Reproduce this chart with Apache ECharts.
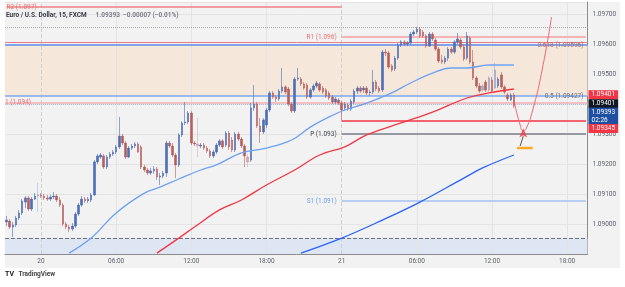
<!DOCTYPE html>
<html>
<head>
<meta charset="utf-8">
<script src="https://cdn.jsdelivr.net/npm/echarts@6/dist/echarts.min.js"></script>
<style>
  html, body { margin: 0; padding: 0; background: #fff; }
  #bg { position: absolute; left: 5px; top: 2px; width: 615px; height: 266px; background: #f2f2f2; }
  #chart { position: absolute; left: 0; top: 0; width: 625px; height: 287px; }
</style>
</head>
<body>
<div id="bg"></div>
<div id="chart"></div>
<script>
// EUR/USD 15 分钟 K 线（开、收、低、高）
const opens = [
  1.09007, 1.09010, 1.08990, 1.08997, 1.09020, 1.09037, 1.09073, 1.09087, 1.09050, 1.09083,
  1.09093, 1.09097, 1.09093, 1.09087, 1.09083, 1.09090, 1.09093, 1.09080, 1.09063, 1.09000,
  1.08990, 1.08983, 1.08993, 1.09033, 1.09063, 1.09083, 1.09077, 1.09080, 1.09097, 1.09207,
  1.09223, 1.09227, 1.09190, 1.09223, 1.09233, 1.09240, 1.09257, 1.09293, 1.09270, 1.09223,
  1.09253, 1.09260, 1.09267, 1.09257, 1.09190, 1.09180, 1.09170, 1.09177, 1.09183, 1.09157,
  1.09160, 1.09170, 1.09270, 1.09260, 1.09230, 1.09197, 1.09297, 1.09337, 1.09340, 1.09370,
  1.09270, 1.09267, 1.09260, 1.09263, 1.09253, 1.09243, 1.09227, 1.09240, 1.09263, 1.09277,
  1.09263, 1.09303, 1.09280, 1.09247, 1.09300, 1.09283, 1.09260, 1.09223, 1.09213, 1.09387,
  1.09400, 1.09327, 1.09307, 1.09330, 1.09380, 1.09437, 1.09423, 1.09417, 1.09443, 1.09457,
  1.09450, 1.09400, 1.09377, 1.09483, 1.09483, 1.09467, 1.09463, 1.09423, 1.09447, 1.09460,
  1.09467, 1.09453, 1.09447, 1.09437, 1.09423, 1.09407, 1.09413, 1.09403, 1.09387, 1.09397,
  1.09383, 1.09407, 1.09443, 1.09453, 1.09447, 1.09453, 1.09437, 1.09440, 1.09473, 1.09453,
  1.09447, 1.09573, 1.09570, 1.09527, 1.09517, 1.09553, 1.09597, 1.09607, 1.09600, 1.09603,
  1.09633, 1.09640, 1.09650, 1.09640, 1.09627, 1.09593, 1.09633, 1.09613, 1.09583, 1.09547,
  1.09540, 1.09553, 1.09583, 1.09573, 1.09607, 1.09613, 1.09590, 1.09553, 1.09620, 1.09540,
  1.09487, 1.09460, 1.09447, 1.09473, 1.09447, 1.09480, 1.09453, 1.09460, 1.09497, 1.09457,
  1.09430, 1.09413, 1.09430
]
const closes = [
  1.09013, 1.08990, 1.08997, 1.09020, 1.09037, 1.09077, 1.09087, 1.09050, 1.09083, 1.09093,
  1.09097, 1.09093, 1.09087, 1.09083, 1.09090, 1.09093, 1.09080, 1.09063, 1.09000, 1.08990,
  1.08983, 1.08993, 1.09033, 1.09063, 1.09083, 1.09077, 1.09083, 1.09097, 1.09207, 1.09227,
  1.09230, 1.09190, 1.09223, 1.09233, 1.09240, 1.09257, 1.09293, 1.09270, 1.09223, 1.09253,
  1.09260, 1.09267, 1.09240, 1.09190, 1.09180, 1.09170, 1.09177, 1.09183, 1.09157, 1.09160,
  1.09170, 1.09270, 1.09260, 1.09230, 1.09197, 1.09297, 1.09337, 1.09340, 1.09370, 1.09270,
  1.09267, 1.09260, 1.09263, 1.09253, 1.09243, 1.09227, 1.09240, 1.09263, 1.09277, 1.09257,
  1.09303, 1.09257, 1.09247, 1.09300, 1.09283, 1.09260, 1.09227, 1.09207, 1.09387, 1.09400,
  1.09327, 1.09307, 1.09347, 1.09380, 1.09437, 1.09423, 1.09417, 1.09443, 1.09457, 1.09440,
  1.09400, 1.09377, 1.09483, 1.09487, 1.09467, 1.09453, 1.09423, 1.09447, 1.09460, 1.09470,
  1.09447, 1.09440, 1.09427, 1.09420, 1.09407, 1.09417, 1.09403, 1.09380, 1.09400, 1.09383,
  1.09410, 1.09443, 1.09453, 1.09443, 1.09453, 1.09437, 1.09440, 1.09473, 1.09450, 1.09443,
  1.09573, 1.09570, 1.09523, 1.09513, 1.09553, 1.09597, 1.09607, 1.09600, 1.09603, 1.09633,
  1.09640, 1.09650, 1.09627, 1.09627, 1.09593, 1.09633, 1.09617, 1.09583, 1.09543, 1.09540,
  1.09553, 1.09583, 1.09573, 1.09607, 1.09617, 1.09590, 1.09550, 1.09627, 1.09540, 1.09487,
  1.09460, 1.09443, 1.09460, 1.09447, 1.09487, 1.09443, 1.09513, 1.09483, 1.09457, 1.09440,
  1.09417, 1.09430, 1.09393
]
const lows = [
  1.08993, 1.08983, 1.08957, 1.08990, 1.09013, 1.09030, 1.09053, 1.09043, 1.09043, 1.09080,
  1.09040, 1.09087, 1.09080, 1.09077, 1.09077, 1.09083, 1.09073, 1.09057, 1.08993, 1.08983,
  1.08973, 1.08977, 1.08987, 1.09027, 1.09057, 1.09070, 1.09070, 1.09073, 1.09093, 1.09200,
  1.09217, 1.09183, 1.09183, 1.09217, 1.09227, 1.09233, 1.09250, 1.09263, 1.09217, 1.09220,
  1.09247, 1.09253, 1.09237, 1.09183, 1.09173, 1.09163, 1.09163, 1.09167, 1.09147, 1.09130,
  1.09153, 1.09157, 1.09253, 1.09223, 1.09153, 1.09190, 1.09290, 1.09330, 1.09333, 1.09263,
  1.09260, 1.09223, 1.09253, 1.09247, 1.09237, 1.09220, 1.09220, 1.09233, 1.09257, 1.09250,
  1.09257, 1.09247, 1.09240, 1.09240, 1.09277, 1.09253, 1.09190, 1.09190, 1.09207, 1.09377,
  1.09320, 1.09270, 1.09300, 1.09320, 1.09373, 1.09417, 1.09407, 1.09410, 1.09437, 1.09433,
  1.09393, 1.09370, 1.09370, 1.09477, 1.09460, 1.09447, 1.09417, 1.09417, 1.09440, 1.09453,
  1.09440, 1.09433, 1.09420, 1.09413, 1.09400, 1.09400, 1.09397, 1.09347, 1.09377, 1.09377,
  1.09377, 1.09400, 1.09433, 1.09437, 1.09437, 1.09430, 1.09427, 1.09433, 1.09443, 1.09437,
  1.09440, 1.09560, 1.09517, 1.09507, 1.09510, 1.09547, 1.09590, 1.09593, 1.09593, 1.09597,
  1.09627, 1.09633, 1.09620, 1.09620, 1.09587, 1.09590, 1.09610, 1.09577, 1.09537, 1.09533,
  1.09533, 1.09543, 1.09567, 1.09567, 1.09600, 1.09583, 1.09543, 1.09547, 1.09533, 1.09480,
  1.09453, 1.09437, 1.09440, 1.09440, 1.09440, 1.09437, 1.09450, 1.09453, 1.09450, 1.09433,
  1.09410, 1.09410, 1.09387
]
const highs = [
  1.09027, 1.09017, 1.09007, 1.09027, 1.09047, 1.09083, 1.09093, 1.09093, 1.09090, 1.09103,
  1.09137, 1.09103, 1.09100, 1.09097, 1.09097, 1.09107, 1.09100, 1.09090, 1.09070, 1.09007,
  1.08997, 1.09003, 1.09040, 1.09070, 1.09093, 1.09090, 1.09090, 1.09103, 1.09213, 1.09233,
  1.09237, 1.09233, 1.09230, 1.09240, 1.09247, 1.09263, 1.09357, 1.09300, 1.09277, 1.09260,
  1.09267, 1.09273, 1.09273, 1.09263, 1.09197, 1.09187, 1.09187, 1.09193, 1.09190, 1.09170,
  1.09177, 1.09277, 1.09277, 1.09270, 1.09237, 1.09303, 1.09343, 1.09407, 1.09377, 1.09377,
  1.09277, 1.09353, 1.09270, 1.09270, 1.09260, 1.09250, 1.09247, 1.09270, 1.09283, 1.09283,
  1.09310, 1.09310, 1.09290, 1.09307, 1.09307, 1.09290, 1.09267, 1.09233, 1.09403, 1.09463,
  1.09407, 1.09353, 1.09353, 1.09387, 1.09443, 1.09443, 1.09430, 1.09450, 1.09520, 1.09463,
  1.09457, 1.09407, 1.09490, 1.09520, 1.09490, 1.09473, 1.09470, 1.09453, 1.09467, 1.09477,
  1.09473, 1.09460, 1.09453, 1.09443, 1.09430, 1.09423, 1.09420, 1.09410, 1.09407, 1.09403,
  1.09417, 1.09450, 1.09460, 1.09460, 1.09460, 1.09460, 1.09447, 1.09513, 1.09480, 1.09460,
  1.09580, 1.09583, 1.09577, 1.09533, 1.09560, 1.09603, 1.09613, 1.09613, 1.09610, 1.09640,
  1.09647, 1.09657, 1.09657, 1.09647, 1.09633, 1.09640, 1.09640, 1.09620, 1.09590, 1.09563,
  1.09560, 1.09590, 1.09590, 1.09613, 1.09637, 1.09620, 1.09597, 1.09640, 1.09627, 1.09580,
  1.09493, 1.09470, 1.09467, 1.09480, 1.09493, 1.09490, 1.09537, 1.09490, 1.09507, 1.09463,
  1.09437, 1.09437, 1.09437
]
// 颜色较淡的 K 线
const fadedBars = [10, 61, 77, 152, 154, 156]

// x 轴：每格 15 分钟，右侧留空
const slotCount = 186
const tickIndex = [11, 35, 59, 83, 107, 131, 155, 179]
const tickLabels = ['20', '06:00', '12:00', '18:00', '21', '06:00', '12:00', '18:00']
const dayIndex = [11, 107]

// 三条均线 [位置, 价格]
const maFast = [[20, 1.08903], [27, 1.08953], [35, 1.09037], [44, 1.09103], [49, 1.09123], [55, 1.09150],
  [62, 1.09180], [67, 1.09197], [75, 1.09237], [83, 1.09253], [91, 1.09280], [97, 1.09323],
  [103, 1.09357], [108, 1.09380], [115, 1.09403], [123, 1.09437], [129, 1.09470], [136, 1.09503],
  [142, 1.09520], [147, 1.09520], [154, 1.09530], [162, 1.09530]]
const maSlow = [[48, 1.08903], [55, 1.08953], [60, 1.08990], [68, 1.09047], [75, 1.09080], [83, 1.09130],
  [92, 1.09180], [100, 1.09230], [108, 1.09257], [115, 1.09297], [126, 1.09337], [136, 1.09373],
  [147, 1.09420], [154, 1.09437], [162, 1.09450]]
const maLong = [[94, 1.08903], [107, 1.08953], [120, 1.09013], [132, 1.09073], [146, 1.09153],
  [152, 1.09187], [162, 1.09230]]

// 手绘曲线与标记
const sketchCurve = [[162, 1.09413], [164, 1.09330], [165, 1.09310], [166, 1.09320], [168, 1.09380], [171, 1.09513], [174, 1.09690]]
const arrowPoint = [[165, 1.09318]]
const baseBar = [[163, 1.09253], [168, 1.09253]]
const stem = [[164, 1.09260], [165, 1.09293]]

// 枢轴点与斐波那契位
const r2 = 1.09723
const r1 = 1.09623
const pivot = 1.09300
const s1 = 1.09077
const fib618 = 1.09596
const fib618Top = 1.09605
const fib500 = 1.09427
const dotTop = 1.09655
const prevHigh = 1.09405
const prevDot = 1.09398
const stopLine = 1.09345
const bottomLine = 1.08954
const lastPrice = 1.09393
const tagHigh = 1.09401

const font = 'Roboto, sans-serif'
let chart = echarts.init(document.getElementById('chart'))

let categories = []
for (let i = 0; i < slotCount; i++) categories.push(String(i))

let candleData = opens.map(function (o, i) {
  let item = { value: [o, closes[i], lows[i], highs[i]] }
  if (fadedBars.indexOf(i) >= 0) item.itemStyle = { opacity: 0.45 }
  return item
})

function seg (from, to, v, color, width, labelText, labelColor, labelPos) {
  let style = { color: color, width: width, type: 'solid' }
  return [
    { coord: [from, v], lineStyle: style,
      label: labelText ? { show: true, position: labelPos || 'start', formatter: labelText, color: labelColor, fontSize: 6.5, fontFamily: font, distance: labelPos ? 0 : 5 } : { show: false } },
    { coord: [to, v], lineStyle: style }
  ]
}

function tag (v, bg, text, dy) {
  return {
    yAxis: v,
    lineStyle: { color: 'transparent', width: 0 },
    label: { show: true, position: 'end', distance: 1, formatter: text, color: '#fff', backgroundColor: bg,
      fontSize: 6.5, fontFamily: font, lineHeight: 8, padding: [0.5, 3], offset: [0, dy] }
  }
}

let vGrid = tickIndex.map(function (i) {
  let isDay = dayIndex.indexOf(i) >= 0
  return { xAxis: i, lineStyle: { color: isDay ? '#cfcfcf' : '#e3e3e3', width: 1, type: isDay ? 'dashed' : 'solid' }, label: { show: false } }
})

let option = {
  animation: false,
  textStyle: { fontFamily: font },
  title: [{
    left: 6, top: 6, padding: 0,
    text: '{a|Euro / U.S. Dollar, 15, FXCM}  {b|1.09393  −0.00007 (−0.01%)}',
    textStyle: { rich: { a: { fontSize: 6.5, color: '#3a3d46', fontFamily: font }, b: { fontSize: 6.5, color: '#7b7f8a', fontFamily: font } } }
  }, {
    left: 5, bottom: 4, padding: 0,
    text: '{l|TV} {t|TradingView}',
    textStyle: { rich: { l: { fontSize: 7, fontWeight: 'bold', color: '#131722', fontFamily: font }, t: { fontSize: 6.5, color: '#444', fontFamily: font } } }
  }],
  grid: { left: 5, right: 37.5, top: 2, bottom: 33 },
  xAxis: {
    type: 'category',
    data: categories,
    boundaryGap: true,
    axisLine: { lineStyle: { color: '#8c8c8c' } },
    axisTick: { show: false },
    splitLine: { show: false },
    axisLabel: {
      interval: function (i) { return tickIndex.indexOf(i) >= 0 },
      formatter: function (v, i) { return tickLabels[tickIndex.indexOf(i)] || '' },
      fontSize: 6.5, color: '#5d606b', margin: 4
    }
  },
  yAxis: {
    type: 'value',
    position: 'right',
    min: 1.089,
    max: 1.0974,
    interval: 0.001,
    axisLine: { show: true, lineStyle: { color: '#8c8c8c' } },
    axisTick: { show: false },
    splitLine: { lineStyle: { color: '#e4e4e4' } },
    axisLabel: {
      fontSize: 6.5, color: '#5d606b', margin: 5,
      formatter: function (v) {
        let k = v * 1000
        if (Math.abs(k - Math.round(k)) > 1e-6 || v < 1.0895) return ''
        return v.toFixed(5)
      }
    }
  },
  series: [
    {
      name: 'levels',
      type: 'line',
      data: [],
      z: 1,
      silent: true,
      markArea: {
        silent: true,
        data: [
          [{ yAxis: fib500, itemStyle: { color: '#f5e8da' } }, { yAxis: fib618 }],
          [{ yAxis: 1.089, itemStyle: { color: '#dde6f2' } }, { yAxis: bottomLine }]
        ]
      },
      markLine: {
        silent: true,
        symbol: 'none',
        precision: 5,
        lineStyle: { type: 'solid' },
        data: vGrid.concat([
          { yAxis: dotTop, lineStyle: { color: '#a6a6a6', width: 1, type: 'dotted' }, label: { show: false } },
          { yAxis: fib618Top, lineStyle: { color: '#ea7b84', width: 1, type: 'solid' }, label: { show: false } },
          { yAxis: fib618, lineStyle: { color: '#5b8def', width: 1.5, type: 'solid' },
            label: { show: true, position: 'insideEnd', formatter: '0.618 (1.09596)', color: '#a86a6a', fontSize: 6.5, distance: 4 } },
          { yAxis: fib500, lineStyle: { color: '#7ea7ee', width: 1.5, type: 'solid' },
            label: { show: true, position: 'insideEnd', formatter: '0.5 (1.09427)', color: '#6b6f7a', fontSize: 6.5, distance: 4 } },
          { yAxis: prevHigh, lineStyle: { color: '#f3b0b3', width: 1.5, type: 'solid' },
            label: { show: true, position: 'insideStart', formatter: '1 (1.094)', color: '#e57373', fontSize: 6.5, distance: 0 } },
          { yAxis: prevDot, lineStyle: { color: '#b4bfd0', width: 1, type: 'dotted' }, label: { show: false } },
          { yAxis: bottomLine, lineStyle: { color: '#6f737d', width: 1, type: 'dashed' }, label: { show: false } },
          seg(0, 107, r2, '#ef7f86', 1.5, 'R2 (1.097)', '#e57373', 'insideStart'),
          seg(107, slotCount - 1, r1, '#f5b3b5', 2, 'R1 (1.096)', '#ee7070'),
          seg(107, slotCount - 1, stopLine, '#f23645', 1.5),
          seg(107, slotCount - 1, pivot, '#7b7e88', 1.5, 'P (1.093)', '#40434d'),
          seg(107, slotCount - 1, s1, '#a3c0f2', 1.5, 'S1 (1.091)', '#6f9cf0'),
          tag(tagHigh, '#f23645', '1.09401', -9),
          tag(tagHigh, '#131722', '1.09401', 0),
          tag(lastPrice, '#1f4fa0', '1.09393\n02:26', 10),
          tag(stopLine, '#f23645', '1.09345', 8)
        ])
      }
    },
    {
      name: 'EURUSD',
      type: 'candlestick',
      z: 5,
      data: candleData,
      barWidth: 2,
      itemStyle: {
        color: '#4d6db4', color0: '#b55e5e',
        borderColor: '#4d6db4', borderColor0: '#b55e5e', borderWidth: 0.6
      }
    },
    {
      name: 'MA fast', type: 'line', z: 6, data: maFast, showSymbol: false, smooth: 0.4,
      lineStyle: { color: '#6ea1f2', width: 1.3 }
    },
    {
      name: 'MA slow', type: 'line', z: 6, data: maSlow, showSymbol: false, smooth: 0.4,
      lineStyle: { color: '#f23645', width: 1.3 }
    },
    {
      name: 'MA long', type: 'line', z: 6, data: maLong, showSymbol: false, smooth: 0.4,
      lineStyle: { color: '#2962ff', width: 1.3 }
    },
    {
      name: 'sketch', type: 'line', z: 7, data: sketchCurve, showSymbol: false, smooth: 0.6,
      lineStyle: { color: '#f26472', width: 1 }
    },
    {
      name: 'base', type: 'line', z: 7, data: baseBar, showSymbol: false,
      lineStyle: { color: '#ffa726', width: 2.5 }
    },
    {
      name: 'stem', type: 'line', z: 7, data: stem, showSymbol: false,
      lineStyle: { color: '#555', width: 1 }
    },
    {
      name: 'arrow', type: 'scatter', z: 8, data: arrowPoint, symbol: 'arrow', symbolSize: [6, 9],
      itemStyle: { color: '#f23645' }
    }
  ]
}

chart.setOption(option)
</script>
</body>
</html>
